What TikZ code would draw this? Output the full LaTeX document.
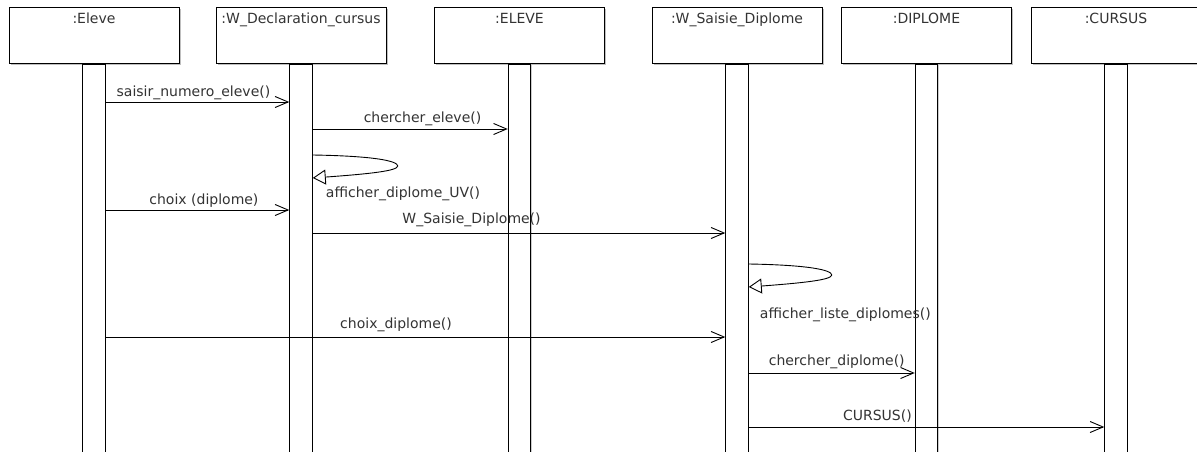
\documentclass[tikz,border=0pt]{standalone}
\usepackage{fontspec}
\setmainfont{DejaVu Sans}
\usetikzlibrary{arrows.meta,shadows}
\definecolor{txt}{HTML}{333333}
\begin{document}
\begin{tikzpicture}[x=1pt,y=-1pt,
  every node/.style={font=\fontsize{14}{16}\selectfont, text=txt, inner sep=0pt},
  objbox/.style={draw=black, line width=1pt, fill=white, minimum width=170pt, minimum height=56pt,
    drop shadow={shadow xshift=1.5pt,shadow yshift=-1.5pt,opacity=0.25,fill=black}},
  lifebar/.style={draw=black, line width=1pt, fill=white, minimum width=22.5pt, minimum height=420pt, anchor=north,
    drop shadow={shadow xshift=1.2pt,shadow yshift=0pt,opacity=0.2,fill=black}},
  boxlbl/.style={anchor=base},
  lbl/.style={anchor=base},
  msg/.style={draw=black, line width=1pt, -{Straight Barb[length=13pt,width=11pt,line width=0.9pt]}},
  selfmsg/.style={draw=black, line width=0.9pt, -{Triangle[open,length=13pt,width=15pt,line width=0.9pt]}}
]
\useasboundingbox (0,0) rectangle (1197,452);
\fill[white] (0,0) rectangle (1197,452);
\clip (0,0) rectangle (1197,452);

% object boxes
\node[objbox] (b1) at (94,36) {};
\node[objbox] (b2) at (301,36) {};
\node[objbox] (b3) at (519.5,36) {};
\node[objbox] (b4) at (737,36) {};
\node[objbox] (b5) at (926.5,36) {};
\node[objbox] (b6) at (1116,36) {};

\node[boxlbl] (t1) at ([yshift=-16pt]b1.north) {:Eleve};
\node[boxlbl] (t2) at ([yshift=-16pt]b2.north) {:W\_Declaration\_cursus};
\node[boxlbl] (t3) at ([yshift=-16pt]b3.north) {:ELEVE};
\node[boxlbl] (t4) at ([yshift=-16pt]b4.north) {:W\_Saisie\_Diplome};
\node[boxlbl] (t5) at ([yshift=-16pt]b5.north) {:DIPLOME};
\node[boxlbl] (t6) at ([yshift=-16pt]b6.north) {:CURSUS};

% activation bars
\node[lifebar] (a1) at (b1.south) {};
\node[lifebar] (a2) at (b2.south) {};
\node[lifebar] (a3) at (b3.south) {};
\node[lifebar] (a4) at (b4.south) {};
\node[lifebar] (a5) at (b5.south) {};
\node[lifebar] (a6) at (b6.south) {};

% message heights
\coordinate (y1) at (0,102);
\coordinate (y2) at (0,129);
\coordinate (y3s) at (0,155);
\coordinate (y3e) at (0,178);
\coordinate (y4) at (0,210);
\coordinate (y5) at (0,233);
\coordinate (y6s) at (0,264);
\coordinate (y6e) at (0,287);
\coordinate (y7) at (0,337);
\coordinate (y8) at (0,373);
\coordinate (y9) at (0,427);

% messages
\draw[msg] (a1.east |- y1) -- node[lbl, pos=0.478, yshift=6pt] {saisir\_numero\_eleve()} (a2.west |- y1);
\draw[msg] (a2.east |- y2) -- node[lbl, pos=0.563, yshift=7pt] {chercher\_eleve()} (a3.west |- y2);

\coordinate (l1s) at (a2.east |- y3s);
\coordinate (l1e) at (a2.east |- y3e);
\draw[selfmsg] (l1s) .. controls +(62,1) and +(0,-5) .. ([shift={(85,11)}]l1s)
  .. controls +(0,5) and +(55,-4) .. (l1e);
\node[lbl, anchor=base west] (m3) at ([xshift=13pt]a2.east |- 0,197) {afficher\_diplome\_UV()};

\draw[msg] (a1.east |- y4) -- node[lbl, pos=0.535, yshift=6pt] {choix (diplome)} (a2.west |- y4);
\draw[msg] (a2.east |- y5) -- node[lbl, pos=0.385, yshift=10pt] {W\_Saisie\_Diplome()} (a4.west |- y5);

\coordinate (l2s) at (a4.east |- y6s);
\coordinate (l2e) at (a4.east |- y6e);
\draw[selfmsg] (l2s) .. controls +(60,1) and +(0,-5) .. ([shift={(83,11)}]l2s)
  .. controls +(0,5) and +(53,-4) .. (l2e);
\node[lbl, anchor=base west] (m6) at ([xshift=11pt]a4.east |- 0,318) {afficher\_liste\_diplomes()};

\draw[msg] (a1.east |- y7) -- node[lbl, pos=0.4686, yshift=9pt] {choix\_diplome()} (a4.west |- y7);
\draw[msg] (a4.east |- y8) -- node[lbl, pos=0.53, yshift=8pt] {chercher\_diplome()} (a5.west |- y8);
\draw[msg] (a4.east |- y9) -- node[lbl, pos=0.362, yshift=7pt] {CURSUS()} (a6.west |- y9);
\end{tikzpicture}
\end{document}
